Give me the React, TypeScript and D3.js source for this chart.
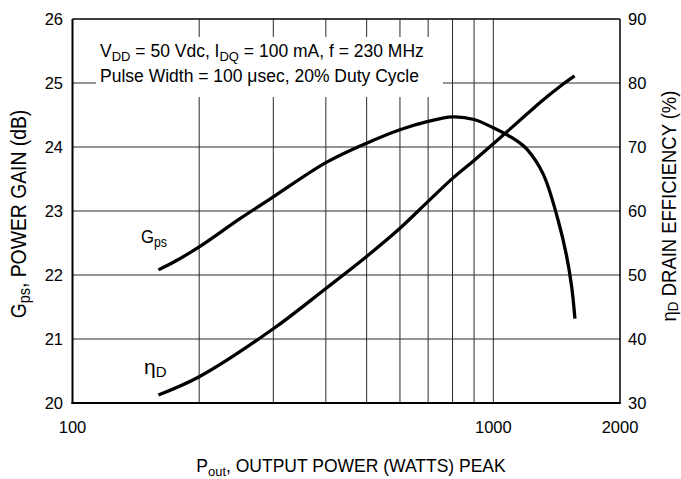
import React from "react";
import * as d3 from "d3";

// Power gain (dB) versus peak output power (W)
const gainPower = [160, 175, 200, 250, 300, 400, 500, 600, 700, 800, 900, 1000, 1136, 1200, 1313, 1425, 1493, 1535, 1563];
const gainDb = [22.08, 22.21, 22.44, 22.88, 23.22, 23.755, 24.06, 24.27, 24.4, 24.47, 24.43, 24.3, 24.1, 23.97, 23.58, 22.86, 22.3, 21.82, 21.32];

// Drain efficiency (%) versus peak output power (W)
const effPower = [160, 200, 300, 400, 500, 600, 700, 800, 900, 1000, 1200, 1300, 1450, 1560];
const effPct = [31.25, 34.1, 41.6, 47.9, 52.9, 57.3, 61.5, 65.1, 67.9, 70.5, 75.1, 77.1, 79.6, 81.1];

const xGrid = [200, 300, 400, 500, 600, 700, 800, 900, 1000];
const xTickLabels = [100, 1000, 2000];
const gainTicks = [20, 21, 22, 23, 24, 25, 26];
const effTicks = [30, 40, 50, 60, 70, 80, 90];

const FONT = "'Liberation Sans', Arial, Helvetica, sans-serif";

export default function App() {
  const W = 681;
  const H = 479;
  const left = 72.5;
  const right = 620;
  const top = 19;
  const bottom = 403;

  const x = d3.scaleLog().domain([100, 2000]).range([left, right]);
  const yG = d3.scaleLinear().domain([20, 26]).range([bottom, top]);
  const yE = d3.scaleLinear().domain([30, 90]).range([bottom, top]);

  const gainLine = d3
    .line<number>()
    .x((_, i) => x(gainPower[i]))
    .y((d) => yG(d))
    .curve(d3.curveCatmullRom.alpha(0.5));
  const effLine = d3
    .line<number>()
    .x((_, i) => x(effPower[i]))
    .y((d) => yE(d))
    .curve(d3.curveCatmullRom.alpha(0.5));

  const gridColor = "#2a2a2a";

  return (
    <svg width={W} height={H} style={{ position: "absolute", left: 0, top: 0, background: "#fff" }} fontFamily={FONT}>
      <rect x={0} y={0} width={W} height={H} fill="#fff" />
      {/* grid */}
      {xGrid.map((v) => (
        <line key={"gx" + v} x1={x(v)} x2={x(v)} y1={top} y2={bottom} stroke={gridColor} strokeWidth={1} />
      ))}
      {gainTicks.slice(1, -1).map((v) => (
        <line key={"gy" + v} x1={left} x2={right} y1={yG(v)} y2={yG(v)} stroke={gridColor} strokeWidth={1} />
      ))}

      {/* conditions note */}
      <rect x={96} y={37} width={347} height={60} fill="#fff" />
      <text x={100} y={57} fontSize={17.5} fill="#000">
        V<tspan fontSize={13} dy={4}>DD</tspan>
        <tspan dy={-4}> = 50 Vdc, I</tspan>
        <tspan fontSize={13} dy={4}>DQ</tspan>
        <tspan dy={-4}> = 100 mA, f = 230 MHz</tspan>
      </text>
      <text x={100} y={82} fontSize={17.5} fill="#000">
        Pulse Width = 100 μsec, 20% Duty Cycle
      </text>

      {/* frame */}
      <line x1={left} x2={right} y1={top} y2={top} stroke="#000" strokeWidth={1.5} />
      <line x1={right} x2={right} y1={top} y2={bottom} stroke="#000" strokeWidth={1.5} />
      <line x1={left} x2={left} y1={top} y2={bottom + 1} stroke="#000" strokeWidth={2} />
      <line x1={left - 1} x2={right + 0.75} y1={bottom} y2={bottom} stroke="#000" strokeWidth={2} />

      {/* curves */}
      <path d={gainLine(gainDb) || ""} fill="none" stroke="#000" strokeWidth={3.3} strokeLinecap="butt" />
      <path d={effLine(effPct) || ""} fill="none" stroke="#000" strokeWidth={3.3} strokeLinecap="butt" />

      {/* curve labels */}
      <text transform="translate(141,243) scale(0.88,1)" fontSize={19} fill="#000">
        G<tspan fontSize={14} dy={4}>ps</tspan>
      </text>
      <text x={144} y={374} fontSize={21} fill="#000">
        η<tspan fontSize={15} dy={3}>D</tspan>
      </text>

      {/* left axis labels */}
      {gainTicks.map((v) => (
        <text key={"lt" + v} x={63} y={yG(v)} dy="0.36em" textAnchor="end" fontSize={16.5} fill="#000">
          {v}
        </text>
      ))}
      {/* right axis labels */}
      {effTicks.map((v) => (
        <text key={"rt" + v} x={628} y={yE(v)} dy="0.36em" textAnchor="start" fontSize={16.5} fill="#000">
          {v}
        </text>
      ))}
      {/* bottom axis labels */}
      {xTickLabels.map((v) => (
        <text key={"bt" + v} x={x(v)} y={433} textAnchor="middle" fontSize={16.5} fill="#000">
          {v}
        </text>
      ))}

      {/* axis titles */}
      <text x={351} y={472} textAnchor="middle" fontSize={17.5} fill="#000">
        P<tspan fontSize={13} dy={4}>out</tspan>
        <tspan dy={-4}>, OUTPUT POWER (WATTS) PEAK</tspan>
      </text>
      <text transform="translate(26,214) rotate(-90) scale(0.9,1)" textAnchor="middle" fontSize={21.5} fill="#000">
        G<tspan fontSize={16} dy={4}>ps</tspan>
        <tspan dy={-4}>, POWER GAIN (dB)</tspan>
      </text>
      <text transform="translate(676,206) rotate(-90) scale(0.9,1)" textAnchor="middle" fontSize={20.5} fill="#000">
        η<tspan fontSize={15} dy={2}>D</tspan>
        <tspan dy={-2}>  DRAIN EFFICIENCY (%)</tspan>
      </text>
    </svg>
  );
}
